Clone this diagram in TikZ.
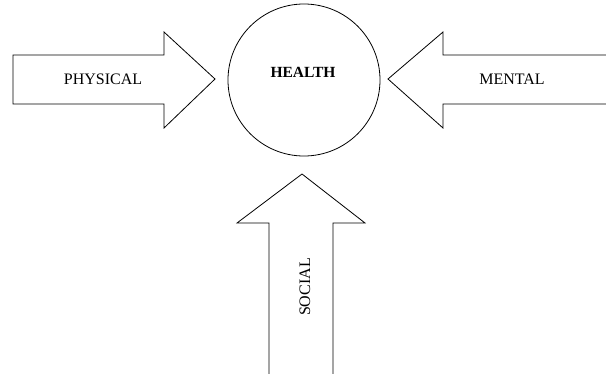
\documentclass[tikz,border=0pt]{standalone}
\usepackage{fontspec}
\setmainfont{Liberation Serif}
\usetikzlibrary{positioning,calc}

\begin{document}
\begin{tikzpicture}[x=1pt, y=-1pt, line width=0.8pt,
		blockArrow/.style={draw=black, fill=white, line join=miter},
		wordnode/.style={draw=none, inner sep=0pt, font=\fontsize{16}{19}\selectfont},
		healthnode/.style={circle, draw=black, minimum size=152pt, inner sep=0pt}
		]
		\useasboundingbox (0,0) rectangle (606,373);
		
		\node [healthnode] (health) at (304,80) {};
		\node [wordnode, font=\fontsize{15.5}{18}\selectfont\bfseries] (healthtxt) at (303,72) {HEALTH};
		
		% physical, from the left
		\draw [blockArrow] (13,55) -- (164,55) -- (164,32) -- (215,79) -- (164,128) -- (164,104) -- (13,104) -- cycle;
		\node [wordnode] (physical) at (103,79) {PHYSICAL};
		
		% mental, from the right
		\draw [blockArrow] (607,55) -- (443,55) -- (443,32) -- (388,79) -- (443,128) -- (443,104) -- (607,104);
		\node [wordnode] (mental) at (512,79) {MENTAL};
		
		% social, from below
		\draw [blockArrow] (269,374) -- (269,223) -- (237,223) -- (302,174) -- (365,223) -- (333,223) -- (333,374);
		\node [wordnode, rotate=90] (social) at (305,287) {SOCIAL};
		
\end{tikzpicture}
\end{document}
